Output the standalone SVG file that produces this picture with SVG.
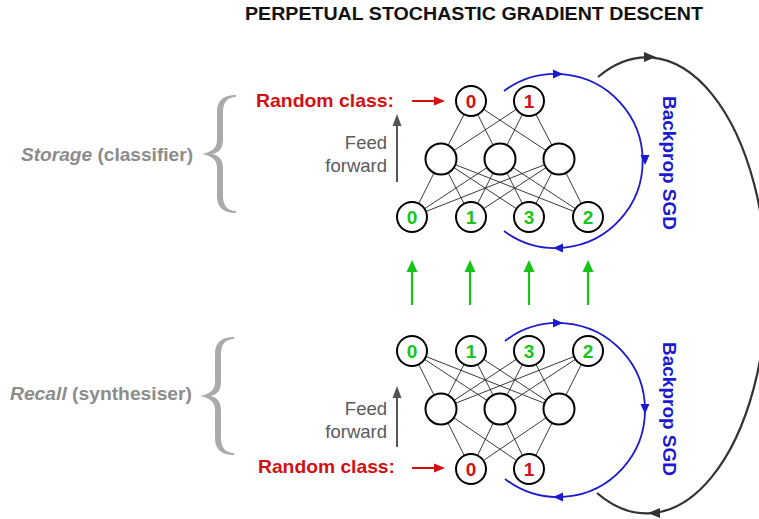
<svg xmlns="http://www.w3.org/2000/svg" width="759" height="519" viewBox="0 0 759 519">
<style>
text{font-family:"Liberation Sans",Arial,Helvetica,sans-serif}
.title{font-size:19px;font-weight:bold;fill:#111}
.red{font-size:19px;font-weight:bold;fill:#d40f0f}
.ff{font-size:18.5px;fill:#5a5a5a;text-anchor:end}
.side{font-size:19px;font-weight:bold;fill:#8c8c8c}
.bp{font-size:19px;font-weight:bold;fill:#1a1ad0;text-anchor:middle}
.n circle{fill:#fff;stroke:#000;stroke-width:2}
.n text{font-size:19px;font-weight:bold;text-anchor:middle}
.g{fill:#19c419}
.r{fill:#d40f0f}
.w line{stroke:#222;stroke-width:0.9}
.blue{fill:none;stroke:#1a1ad0;stroke-width:1.8}
.blk{fill:none;stroke:#333;stroke-width:2.2}
.brace{fill:#aaa}
</style>

<text class="title" x="245" y="20" textLength="458" lengthAdjust="spacingAndGlyphs">PERPETUAL STOCHASTIC GRADIENT DESCENT</text>

<!-- side labels -->
<g id="storage-label">
<path class="brace" d="M236 95 C224 95 217 100 217 112 L217 140 C217 148 212 152 202 154 C212 156 217 160 217 168 L217 196 C217 208 224 213 236 213 L236 211 C228 211 223 206 223 196 L223 168 C223 160 219 155 212 154 C219 153 223 148 223 140 L223 112 C223 102 228 97 236 97 Z"/>
<text class="side" x="21" y="161" textLength="172" lengthAdjust="spacingAndGlyphs"><tspan font-style="italic">Storage</tspan> (classifier)</text>
</g>
<g id="recall-label">
<path class="brace" transform="translate(-2,242)" d="M236 95 C224 95 217 100 217 112 L217 140 C217 148 212 152 202 154 C212 156 217 160 217 168 L217 196 C217 208 224 213 236 213 L236 211 C228 211 223 206 223 196 L223 168 C223 160 219 155 212 154 C219 153 223 148 223 140 L223 112 C223 102 228 97 236 97 Z"/>
<text class="side" x="10" y="400" textLength="182" lengthAdjust="spacingAndGlyphs"><tspan font-style="italic">Recall</tspan> (synthesiser)</text>
</g>

<!-- top labels -->
<g id="top-random">
<text class="red" x="256" y="107" textLength="138" lengthAdjust="spacingAndGlyphs">Random class:</text>
</g>
<g id="top-feed">
<text class="ff" x="387" y="149">Feed</text>
<text class="ff" x="387" y="172">forward</text>
</g>
<g id="bot-random">
<text class="red" x="258" y="473" textLength="137" lengthAdjust="spacingAndGlyphs">Random class:</text>
</g>
<g id="bot-feed">
<text class="ff" x="387" y="415">Feed</text>
<text class="ff" x="387" y="438">forward</text>
</g>
<g id="top-backprop-label">
<text class="bp" transform="translate(670,163) rotate(90)" x="0" y="7">Backprop SGD</text>
</g>
<g id="bot-backprop-label">
<text class="bp" transform="translate(670,409) rotate(90)" x="0" y="7">Backprop SGD</text>
</g>

<!-- connectors -->
<g id="connectors">
<g class="w">
<!-- top: input->hidden -->
<line x1="412" y1="217" x2="441" y2="159"/><line x1="412" y1="217" x2="500" y2="159"/><line x1="412" y1="217" x2="559" y2="159"/>
<line x1="471" y1="217" x2="441" y2="159"/><line x1="471" y1="217" x2="500" y2="159"/><line x1="471" y1="217" x2="559" y2="159"/>
<line x1="529" y1="217" x2="441" y2="159"/><line x1="529" y1="217" x2="500" y2="159"/><line x1="529" y1="217" x2="559" y2="159"/>
<line x1="588" y1="217" x2="441" y2="159"/><line x1="588" y1="217" x2="500" y2="159"/><line x1="588" y1="217" x2="559" y2="159"/>
<!-- top: hidden->output -->
<line x1="441" y1="159" x2="471" y2="101"/><line x1="441" y1="159" x2="529" y2="101"/>
<line x1="500" y1="159" x2="471" y2="101"/><line x1="500" y1="159" x2="529" y2="101"/>
<line x1="559" y1="159" x2="471" y2="101"/><line x1="559" y1="159" x2="529" y2="101"/>
<!-- bottom: input->hidden -->
<line x1="412" y1="351" x2="441" y2="409"/><line x1="412" y1="351" x2="500" y2="409"/><line x1="412" y1="351" x2="559" y2="409"/>
<line x1="471" y1="351" x2="441" y2="409"/><line x1="471" y1="351" x2="500" y2="409"/><line x1="471" y1="351" x2="559" y2="409"/>
<line x1="529" y1="351" x2="441" y2="409"/><line x1="529" y1="351" x2="500" y2="409"/><line x1="529" y1="351" x2="559" y2="409"/>
<line x1="588" y1="351" x2="441" y2="409"/><line x1="588" y1="351" x2="500" y2="409"/><line x1="588" y1="351" x2="559" y2="409"/>
<!-- bottom: hidden->output -->
<line x1="441" y1="409" x2="471" y2="469"/><line x1="441" y1="409" x2="529" y2="469"/>
<line x1="500" y1="409" x2="471" y2="469"/><line x1="500" y1="409" x2="529" y2="469"/>
<line x1="559" y1="409" x2="471" y2="469"/><line x1="559" y1="409" x2="529" y2="469"/>
</g>
<!-- red arrows -->
<line x1="412" y1="101" x2="436" y2="101" stroke="#d40f0f" stroke-width="2"/>
<polygon points="445,101 434,96.5 434,105.5" fill="#d40f0f"/>
<line x1="412" y1="468" x2="436" y2="468" stroke="#d40f0f" stroke-width="2"/>
<polygon points="445,468 434,463.5 434,472.5" fill="#d40f0f"/>
<!-- feed forward arrows -->
<line x1="397" y1="182" x2="397" y2="124" stroke="#555" stroke-width="2"/>
<polygon points="397,114 392.5,126 401.5,126" fill="#555"/>
<line x1="397" y1="447" x2="397" y2="396" stroke="#555" stroke-width="2"/>
<polygon points="397,386 392.5,398 401.5,398" fill="#555"/>
<!-- green arrows -->
<g stroke="#19c419" stroke-width="2.2">
<line x1="412" y1="305" x2="412" y2="270"/><line x1="470" y1="305" x2="470" y2="270"/>
<line x1="529" y1="305" x2="529" y2="270"/><line x1="588" y1="305" x2="588" y2="270"/>
</g>
<g fill="#19c419">
<polygon points="412,260 406.5,272 417.5,272"/><polygon points="470,260 464.5,272 475.5,272"/>
<polygon points="529,260 523.5,272 534.5,272"/><polygon points="588,260 582.5,272 593.5,272"/>
</g>
<!-- blue backprop arcs -->
<path class="blue" d="M504 91 A87 87 0 1 1 504 231"/>
<polygon points="563,74 553,69.5 553,78.5" fill="#1a1ad0"/>
<polygon points="645,165 640.5,155 649.5,155" fill="#1a1ad0"/>
<polygon points="553,248 563,243.5 563,252.5" fill="#1a1ad0"/>
<path class="blue" d="M505 341 A87 87 0 1 1 505 479"/>
<polygon points="563,323 553,318.5 553,327.5" fill="#1a1ad0"/>
<polygon points="645,414 640.5,404 649.5,404" fill="#1a1ad0"/>
<polygon points="553,497 563,492.5 563,501.5" fill="#1a1ad0"/>
<!-- black perpetual loop -->
<path class="blk" d="M598 77 A120 228 0 1 1 597 493"/>
<polygon points="656,57 644,52 644,62" fill="#333"/>
<polygon points="648,513 660,508 660,518" fill="#333"/>
</g>

<!-- nodes top -->
<g id="top-out-0" class="n"><circle cx="471" cy="101" r="15"/><text class="r" x="471" y="108">0</text></g>
<g id="top-out-1" class="n"><circle cx="529" cy="101" r="15"/><text class="r" x="529" y="108">1</text></g>
<g id="top-hid-0" class="n"><circle cx="441" cy="159" r="15.5"/></g>
<g id="top-hid-1" class="n"><circle cx="500" cy="159" r="15.5"/></g>
<g id="top-hid-2" class="n"><circle cx="559" cy="159" r="15.5"/></g>
<g id="top-in-0" class="n"><circle cx="412" cy="217" r="15"/><text class="g" x="412" y="224">0</text></g>
<g id="top-in-1" class="n"><circle cx="471" cy="217" r="15"/><text class="g" x="471" y="224">1</text></g>
<g id="top-in-3" class="n"><circle cx="529" cy="217" r="15"/><text class="g" x="529" y="224">3</text></g>
<g id="top-in-2" class="n"><circle cx="588" cy="217" r="15"/><text class="g" x="588" y="224">2</text></g>
<!-- nodes bottom -->
<g id="bot-in-0" class="n"><circle cx="412" cy="351" r="15"/><text class="g" x="412" y="358">0</text></g>
<g id="bot-in-1" class="n"><circle cx="471" cy="351" r="15"/><text class="g" x="471" y="358">1</text></g>
<g id="bot-in-3" class="n"><circle cx="529" cy="351" r="15"/><text class="g" x="529" y="358">3</text></g>
<g id="bot-in-2" class="n"><circle cx="588" cy="351" r="15"/><text class="g" x="588" y="358">2</text></g>
<g id="bot-hid-0" class="n"><circle cx="441" cy="409" r="15.5"/></g>
<g id="bot-hid-1" class="n"><circle cx="500" cy="409" r="15.5"/></g>
<g id="bot-hid-2" class="n"><circle cx="559" cy="409" r="15.5"/></g>
<g id="bot-out-0" class="n"><circle cx="471" cy="469" r="15"/><text class="r" x="471" y="476">0</text></g>
<g id="bot-out-1" class="n"><circle cx="529" cy="469" r="15"/><text class="r" x="529" y="476">1</text></g>
</svg>
